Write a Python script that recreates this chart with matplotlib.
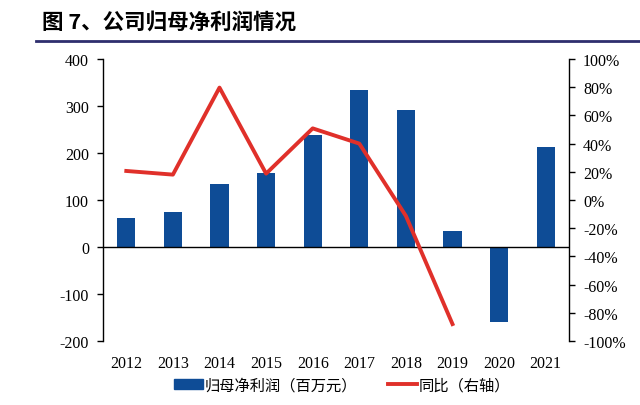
import matplotlib
matplotlib.use("Agg")
import matplotlib.pyplot as plt
from matplotlib.lines import Line2D
import numpy as np

plt.rcParams["axes.unicode_minus"] = False

years = ["2012", "2013", "2014", "2015", "2016", "2017", "2018", "2019", "2020", "2021"]
profit = [62, 74, 133, 158, 238, 334, 291, 33, -159, 212]
yoy_years = ["2012", "2013", "2014", "2015", "2016", "2017", "2018", "2019"]
yoy = [20.6, 18.0, 79.7, 18.7, 50.8, 40.0, -11.3, -88.0]

title = "图 7、公司归母净利润情况"
bar_label = "归母净利润（百万元）"
line_label = "同比（右轴）"

serif = ["Liberation Serif", "DejaVu Serif"]
cjk = ["Noto Sans CJK SC", "DejaVu Sans"]

fig = plt.figure(figsize=(6.4, 4.06), dpi=100)
ax = fig.add_axes([103/640, 1-342/406, (569-103)/640, (342-60)/406])
x = np.arange(len(years))
bar_color = "#0E4C96"
line_color = "#E0302A"
ax.bar(x, profit, width=0.39, color=bar_color, zorder=2)
ax.axhline(0, color="black", lw=1.0, zorder=3)
ax.set_xlim(-0.5, len(years)-0.5)
ax.set_ylim(-200, 400)
ax.set_yticks(range(-200, 401, 100))
ax.set_xticks(x)
ax.set_xticklabels(years, fontfamily=serif, fontsize=11.5)
for lab in ax.get_yticklabels():
    lab.set_fontfamily(serif); lab.set_fontsize(11.5)
ax.tick_params(axis="x", length=0, pad=10)
ax.tick_params(axis="y", direction="out", length=4, width=1, pad=6)
for s in ["top", "right", "bottom"]:
    ax.spines[s].set_visible(False)
ax.spines["left"].set_linewidth(1.0)

ax2 = ax.twinx()
xi = [years.index(y) for y in yoy_years]
ax2.plot(xi, yoy, color=line_color, lw=2.8, zorder=4)
ax2.set_ylim(-100, 100)
ax2.set_yticks(range(-100, 101, 20))
ax2.set_yticklabels([f"{v}%" for v in range(-100, 101, 20)], fontfamily=serif, fontsize=11.5)
ax2.tick_params(axis="y", direction="out", length=4, width=1, pad=6)
for s in ["top", "left", "bottom"]:
    ax2.spines[s].set_visible(False)
ax2.spines["right"].set_linewidth(1.0)

fig.text(42/640, 1-22/406, title, fontfamily=cjk, fontsize=15.5, fontweight="bold", va="center", ha="left")
fig.add_artist(Line2D([36/640, 1.0], [1-42/406, 1-42/406], color="#2E2E6E", lw=2.0))

handles = [plt.Rectangle((0, 0), 1, 1, color=bar_color), Line2D([0], [0], color=line_color, lw=2.8)]
fig.legend(handles, [bar_label, line_label], loc="center", bbox_to_anchor=(342/640, 1-386/406), ncol=2,
           frameon=False, prop={"family": cjk, "size": 11}, handlelength=1.9, handleheight=0.55,
           columnspacing=2.0, handletextpad=0.1)

fig.savefig("out.png", dpi=100)
